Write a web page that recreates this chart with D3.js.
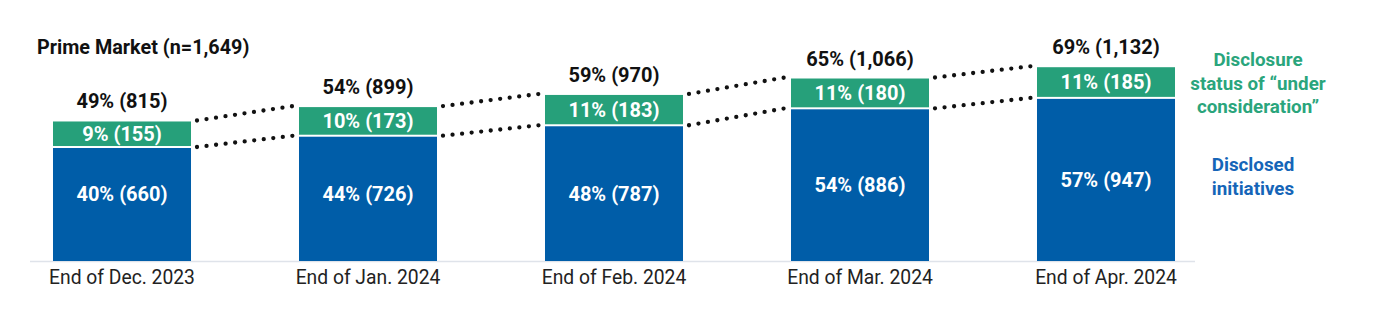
<!DOCTYPE html>
<html><head><meta charset="utf-8">
<script src="https://cdn.jsdelivr.net/npm/d3@7"></script>
<style>body{margin:0;background:#fff}svg{display:block;font-family:Roboto,"Noto Sans",sans-serif}</style>
</head><body>
<svg id="c" width="1387" height="327"></svg>
<script>
const categories = ["End of Dec. 2023","End of Jan. 2024","End of Feb. 2024","End of Mar. 2024","End of Apr. 2024"];
const disclosed = [660,726,787,886,947];
const disclosedPct = [40,44,48,54,57];
const consideration = [155,173,183,180,185];
const considerationPct = [9,10,11,11,11];
const totals = [815,899,970,1066,1132];
const totalsPct = [49,54,59,65,69];
const title = "Prime Market (n=1,649)";

const GREEN = "#26a07a", BLUE = "#005da8";
const svg = d3.select("#c");
const x = d3.scaleBand().domain(categories).range([-1,1229]).paddingInner(0.439).paddingOuter(0.2195);
const y = d3.scaleLinear().domain([0,1649]).range([261,-21.3]);
const fmt = d3.format(",");

svg.append("line").attr("x1",30).attr("x2",1195).attr("y1",261.5).attr("y2",261.5).attr("stroke","#dfe3ea").attr("stroke-width",1.5);

svg.append("text").attr("x",37).attr("y",54).attr("font-size",19.8).attr("font-weight",700).attr("fill","#111").text(title);

// dotted connectors
for(let i=0;i<categories.length-1;i++){
  const xa = x(categories[i])+x.bandwidth()+6, xb = x(categories[i+1])-6;
  [[totals[i],totals[i+1]],[disclosed[i],disclosed[i+1]]].forEach(([a,b])=>{
    svg.append("line").attr("x1",xa).attr("x2",xb).attr("y1",y(a)-1).attr("y2",y(b)-1)
      .attr("stroke","#111").attr("stroke-width",4.3).attr("stroke-linecap","round").attr("stroke-dasharray","0 9.6");
  });
}

const g = svg.append("g");
categories.forEach((c,i)=>{
  const bx = x(c), w = x.bandwidth();
  g.append("rect").attr("x",bx).attr("y",y(disclosed[i])).attr("width",w).attr("height",y(0)-y(disclosed[i])).attr("fill",BLUE);
  g.append("rect").attr("x",bx).attr("y",y(totals[i])).attr("width",w).attr("height",y(disclosed[i])-y(totals[i])-2).attr("fill",GREEN);
  const mid = Math.min((y(disclosed[i])+y(0))/2, 194);
  g.append("text").attr("x",bx+w/2).attr("y",mid+7).attr("text-anchor","middle").attr("fill","#fff").attr("font-size",20).attr("font-weight",700)
    .text(`${disclosedPct[i]}% (${fmt(disclosed[i])})`);
  g.append("text").attr("x",bx+w/2).attr("y",(y(totals[i])+y(disclosed[i]))/2+6).attr("text-anchor","middle").attr("fill","#fff").attr("font-size",20).attr("font-weight",700)
    .text(`${considerationPct[i]}% (${fmt(consideration[i])})`);
  g.append("text").attr("x",bx+w/2).attr("y",y(totals[i])-13).attr("text-anchor","middle").attr("fill","#111").attr("font-size",20).attr("font-weight",700)
    .text(`${totalsPct[i]}% (${fmt(totals[i])})`);
  g.append("text").attr("x",bx+w/2).attr("y",284).attr("text-anchor","middle").attr("fill","#222").attr("font-size",19.3)
    .text(c);
});

const leg1 = ["Disclosure","status of \u201cunder","consideration\u201d"];
leg1.forEach((t,i)=>svg.append("text").attr("x",1258).attr("y",66+i*23.5).attr("text-anchor","middle").attr("fill","#2aa57c").attr("font-size",18.8).attr("font-weight",700).text(t));
const leg2 = ["Disclosed","initiatives"];
leg2.forEach((t,i)=>svg.append("text").attr("x",1253).attr("y",171+i*23.5).attr("text-anchor","middle").attr("fill","#1565b8").attr("font-size",18.8).attr("font-weight",700).text(t));
</script>
</body></html>
